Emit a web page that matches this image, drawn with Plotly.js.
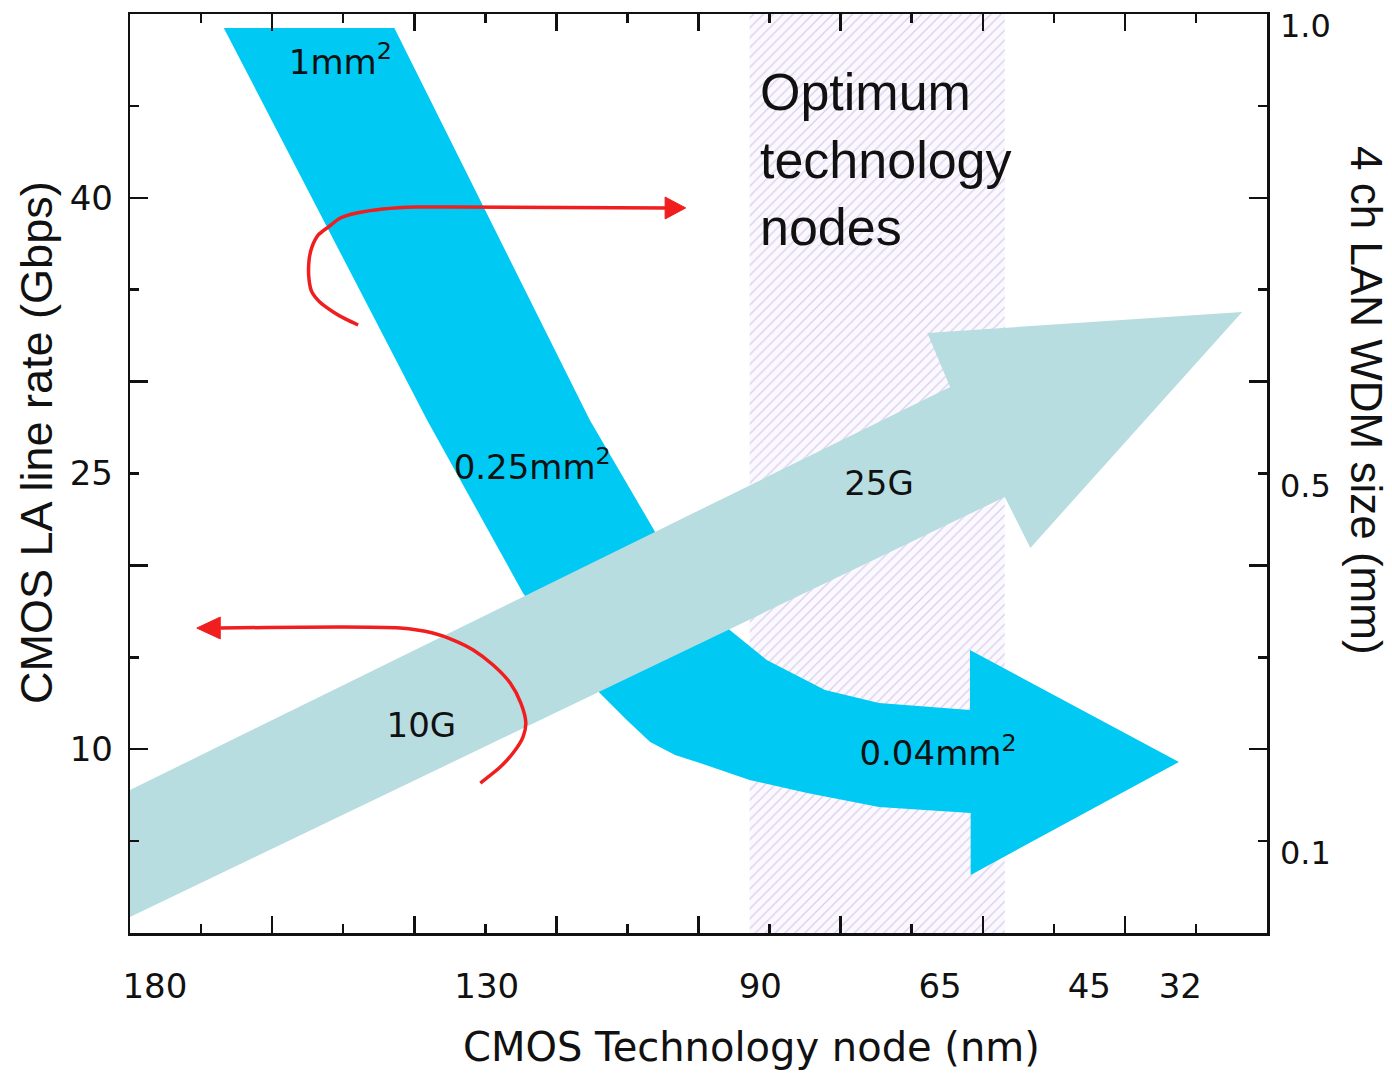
<!DOCTYPE html>
<html>
<head>
<meta charset="utf-8">
<script src="https://cdn.plot.ly/plotly-3.0.1.min.js"></script>
<style>html,body{margin:0;padding:0;background:#fff}</style>
</head>
<body>
<div id="chart" style="width:1392px;height:1073px"></div>
<script>
// ---- Axis definitions (x: technology node scale in tick units, y: Gbps) ----
const nodeLabels = ['180', '130', '90', '65', '45', '32'];
const nodePos    = [0.35, 5.02, 8.87, 11.4, 13.5, 14.78];
const nodeMajorTicks = [2, 4, 6, 8, 10, 12, 14];
const nodeMinorTicks = [1, 3, 5, 7, 9, 11, 13, 15];

const rateTickVals = [10, 25, 40];
const rateTickText = ['10', '25', '40'];
const rateMajorTicks = [10, 20, 30, 40];
const rateMinorTicks = [5, 15, 25, 35, 45];

const sizeTickVals = [5, 25, 50];
const sizeTickText = ['0.1', '0.5', '1.0'];

// ---- Optimum technology node band ----
const optimumX = [8.72, 12.31, 12.31, 8.72, 8.72];
const optimumY = [0, 0, 50, 50, 0];

// ---- LA chip area band (1mm2 -> 0.25mm2 -> 0.04mm2) ----
const areaBandX = [1.32, 4.18, 5.53, 6.12, 6.61, 6.99, 7.32, 7.67, 8.02, 8.72, 9.53, 10.54, 11.83,
                   11.83, 14.76, 11.82, 11.82,
                   10.54, 9.78, 9.43, 8.96, 8.44, 7.88, 7.39, 6.47, 3.72, 1.32];
const areaBandY = [49.24, 27.91, 18.50, 15.40, 13.06, 11.59, 10.39, 9.68, 9.25, 8.32, 7.62, 6.86, 6.53,
                   3.16, 9.30, 15.40, 12.13,
                   12.51, 13.22, 13.93, 14.85, 16.49, 19.21, 21.82, 27.91, 49.24, 49.24];

// ---- Line-rate arrow (10G -> 25G) ----
const rateArrowX = [0, 11.54, 11.22, 15.65, 12.67, 12.31, 0, 0];
const rateArrowY = [7.78, 29.71, 32.64, 33.79, 20.95, 23.72, 0.87, 7.78];

// ---- Red curved arrows ----
const upperCurveX = [3.21, 3.03, 2.86, 2.67, 2.56, 2.52, 2.52, 2.56, 2.65, 2.79, 2.96, 3.19, 3.56, 4.04, 4.50, 7.60];
const upperCurveY = [33.08, 33.41, 33.79, 34.33, 34.87, 35.53, 36.62, 37.32, 37.98, 38.41, 38.90, 39.17, 39.39, 39.50, 39.50, 39.45];
const upperHeadX = [7.53, 7.82, 7.53, 7.53];
const upperHeadY = [40.04, 39.45, 38.85, 40.04];

const lowerCurveX = [4.93, 5.21, 5.39, 5.53, 5.57, 5.50, 5.35, 5.11, 4.83, 4.55, 4.26, 3.80, 1.27];
const lowerCurveY = [8.16, 9.03, 9.79, 10.66, 11.43, 12.51, 13.60, 14.58, 15.40, 15.94, 16.32, 16.59, 16.59];
const lowerHeadX = [1.27, 0.94, 1.27, 1.27];
const lowerHeadY = [17.19, 16.59, 16.00, 17.19];

// ---- In-plot labels ----
const bandLabels = ['1mm<sup>2</sup>', '0.25mm<sup>2</sup>', '0.04mm<sup>2</sup>', '25G', '10G'];
const bandLabelX = [2.96, 5.66, 11.37, 10.54, 4.10];
const bandLabelY = [47.22, 25.19, 9.58, 24.32, 11.15];

const CYAN = '#00c9f4';
const TEAL = '#b7dde1';
const RED = '#f01e1e';
const INK = '#111111';

const traces = [
  {x: optimumX, y: optimumY, type: 'scatter', mode: 'lines', fill: 'toself',
   line: {width: 0, color: 'rgba(0,0,0,0)'}, fillcolor: '#fbf9fe',
   fillpattern: {shape: '/', fgcolor: '#d9cdef', bgcolor: '#fbf9fe', size: 7, solidity: 0.18},
   hoverinfo: 'skip', showlegend: false},
  {x: areaBandX, y: areaBandY, type: 'scatter', mode: 'lines', fill: 'toself',
   line: {width: 0, color: CYAN}, fillcolor: CYAN, hoverinfo: 'skip', showlegend: false},
  {x: rateArrowX, y: rateArrowY, type: 'scatter', mode: 'lines', fill: 'toself',
   line: {width: 0, color: TEAL}, fillcolor: TEAL, hoverinfo: 'skip', showlegend: false},
  // red arrows live on the overlaid (right-axis) subplot, identical scale
  {x: upperCurveX, y: upperCurveY, xaxis: 'x2', yaxis: 'y2', type: 'scatter', mode: 'lines',
   line: {width: 3.5, color: RED, shape: 'spline', smoothing: 0.8}, hoverinfo: 'skip', showlegend: false},
  {x: upperHeadX, y: upperHeadY, xaxis: 'x2', yaxis: 'y2', type: 'scatter', mode: 'lines', fill: 'toself',
   line: {width: 1, color: RED}, fillcolor: RED, hoverinfo: 'skip', showlegend: false},
  {x: lowerCurveX, y: lowerCurveY, xaxis: 'x2', yaxis: 'y2', type: 'scatter', mode: 'lines',
   line: {width: 3.5, color: RED, shape: 'spline', smoothing: 0.8}, hoverinfo: 'skip', showlegend: false},
  {x: lowerHeadX, y: lowerHeadY, xaxis: 'x2', yaxis: 'y2', type: 'scatter', mode: 'lines', fill: 'toself',
   line: {width: 1, color: RED}, fillcolor: RED, hoverinfo: 'skip', showlegend: false},
  {x: bandLabelX, y: bandLabelY, xaxis: 'x2', yaxis: 'y3', type: 'scatter', mode: 'text', text: bandLabels,
   textposition: 'middle center', cliponaxis: false,
   textfont: {family: 'DejaVu Sans', size: 34, color: INK}, hoverinfo: 'skip', showlegend: false}
];

const tickFont = {family: 'DejaVu Sans', size: 34, color: INK};

const layout = {
  width: 1392, height: 1073,
  margin: {l: 130, r: 125, t: 14, b: 140, pad: 0},
  paper_bgcolor: '#ffffff', plot_bgcolor: '#ffffff',
  showlegend: false,
  xaxis: {
    range: [0, 16], showline: true, linecolor: INK, linewidth: 2.5, mirror: 'ticks',
    ticks: 'inside', tickvals: nodeMajorTicks, ticklen: 17, tickwidth: 2.5, tickcolor: INK,
    minor: {ticks: 'inside', tickvals: nodeMinorTicks, ticklen: 9, tickwidth: 2.5, tickcolor: INK, showgrid: false},
    showticklabels: false, showgrid: false, zeroline: false, fixedrange: true
  },
  xaxis2: {
    overlaying: 'x', anchor: 'y', side: 'bottom', range: [0, 16],
    tickvals: nodePos, ticktext: nodeLabels, ticks: '', showline: false, showgrid: false, zeroline: false,
    tickfont: tickFont, ticklabelstandoff: 30, fixedrange: true
  },
  yaxis: {
    range: [0, 50], showline: true, linecolor: INK, linewidth: 2.5, mirror: 'ticks',
    ticks: 'inside', tickvals: rateMajorTicks, ticklen: 18, tickwidth: 2.5, tickcolor: INK,
    minor: {ticks: 'inside', tickvals: rateMinorTicks, ticklen: 9, tickwidth: 2.5, tickcolor: INK, showgrid: false},
    showticklabels: false, showgrid: false, zeroline: false, fixedrange: true
  },
  yaxis3: {
    overlaying: 'y', anchor: 'x', side: 'left', range: [0, 50],
    tickvals: rateTickVals, ticktext: rateTickText, ticks: '', showline: false, showgrid: false, zeroline: false,
    tickfont: tickFont, ticklabelstandoff: 16, fixedrange: true
  },
  yaxis2: {
    overlaying: 'y', anchor: 'x', side: 'right', range: [0, 50],
    tickvals: sizeTickVals, ticktext: sizeTickText, ticks: '', showline: false, showgrid: false, zeroline: false,
    tickfont: {family: 'DejaVu Sans', size: 32, color: INK}, ticklabelstandoff: 12, ticklabelshift: 12,
    ticklabeloverflow: 'allow', fixedrange: true
  },
  annotations: [
    {text: 'Optimum<br>technology<br>nodes', xref: 'x', yref: 'y', x: 8.84, y: 42.06,
     xanchor: 'left', yanchor: 'middle', align: 'left', showarrow: false,
     font: {family: 'Liberation Sans', size: 52, color: INK}},
    {text: 'CMOS Technology node (nm)', xref: 'x', yref: 'paper', x: 8.75, y: -0.124,
     xanchor: 'center', yanchor: 'middle', showarrow: false, borderpad: 0,
     font: {family: 'DejaVu Sans', size: 40, color: INK}},
    {text: 'CMOS LA line rate (Gbps)', xref: 'paper', yref: 'y', x: -0.0827, y: 26.71,
     xanchor: 'center', yanchor: 'middle', textangle: -90, showarrow: false,
     font: {family: 'Liberation Sans', size: 45, color: INK}},
    {text: '4 ch LAN WDM size (mm)', xref: 'paper', yref: 'y', x: 1.087, y: 29.0,
     xanchor: 'center', yanchor: 'middle', textangle: 90, showarrow: false, borderpad: 0,
     font: {family: 'Liberation Sans', size: 44, color: INK}}
  ]
};

Plotly.newPlot('chart', traces, layout, {staticPlot: true, displayModeBar: false});
</script>
</body>
</html>
